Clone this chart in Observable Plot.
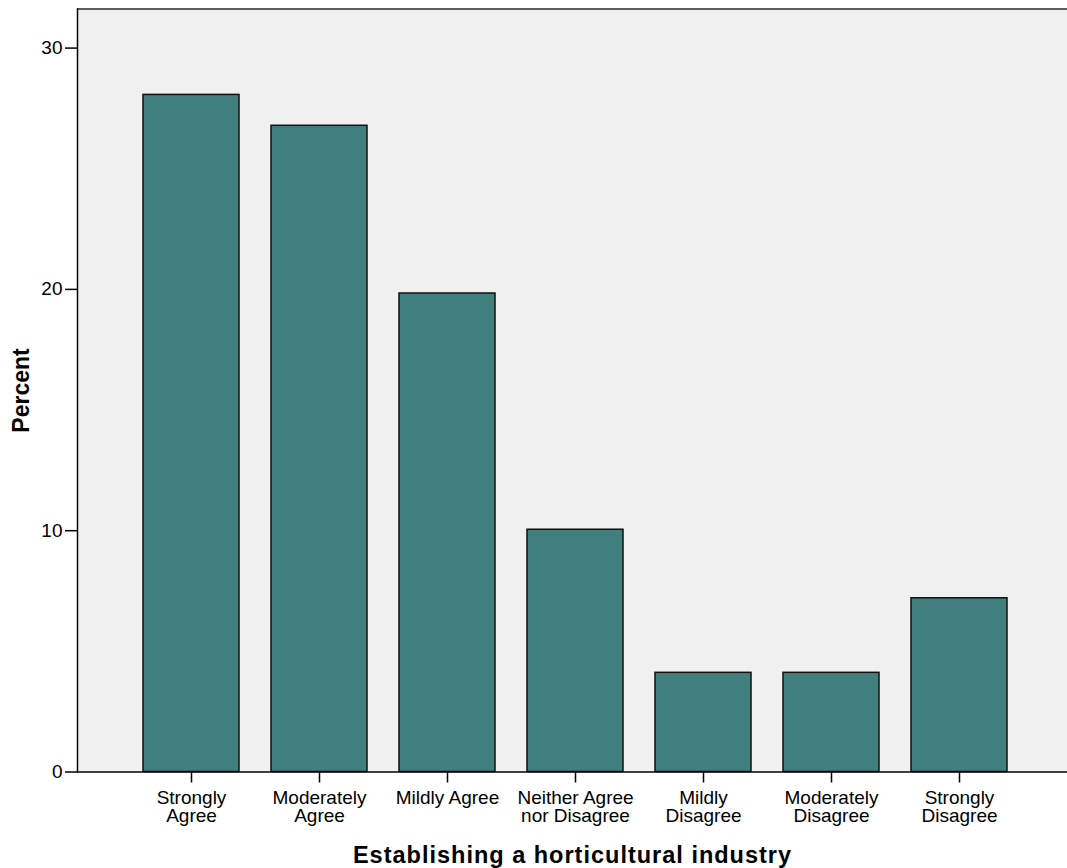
<!DOCTYPE html>
<html><head><meta charset="utf-8">
<script src="https://cdn.jsdelivr.net/npm/d3@7"></script>
<script src="https://cdn.jsdelivr.net/npm/@observablehq/plot@0.6"></script>
<style>
html,body{margin:0;padding:0;background:#fff;}
#chart svg{display:block;}
g[aria-label="x-axis label"], g[aria-label="x-axis label"] text{font-size:23.5px;font-weight:bold;letter-spacing:1px;}
g[aria-label="y-axis label"], g[aria-label="y-axis label"] text{font-size:23px;font-weight:bold;}
</style></head><body><div id="chart"></div>
<script>
const categories = ["Strongly Agree","Moderately Agree","Mildly Agree","Neither Agree nor Disagree","Mildly Disagree","Moderately Disagree","Strongly Disagree"];
const tickLabels = ["Strongly\nAgree","Moderately\nAgree","Mildly Agree","Neither Agree\nnor Disagree","Mildly\nDisagree","Moderately\nDisagree","Strongly\nDisagree"];
const percents = [28.06, 26.78, 19.83, 10.04, 4.11, 4.11, 7.20];
const yTicks = [0, 10, 20, 30];
const xTitle = "Establishing a horticultural industry";
const yTitle = "Percent";
const yMax = 31.62;

const data = categories.map((c, i) => ({category: c, percent: percents[i]}));

const chart = Plot.plot({
  width: 1067, height: 868,
  marginLeft: 77, marginRight: 0, marginTop: 8.5, marginBottom: 96.5,
  style: "font-family:'Liberation Sans', Arial, sans-serif; font-size:19px; color:#000; background:#fff; overflow:visible;",
  x: {type: "band", domain: categories, range: [77, 1073.5], paddingInner: 0.25, paddingOuter: 0.51, align: 0.5},
  y: {domain: [0, yMax]},
  marks: [
    Plot.frame({fill: "#f0f0f0"}),
    Plot.barY(data, {x: "category", y: "percent", fill: "#417f7e", stroke: "#111", strokeWidth: 1.5}),
    Plot.ruleY([yMax], {stroke: "#2a2a2a", strokeWidth: 1.5}),
    Plot.ruleY([0], {stroke: "#000", strokeWidth: 1.5}),
    Plot.frame({anchor: "left", stroke: "#000", strokeWidth: 1.5}),
    Plot.axisY({ticks: yTicks, tickSize: 12, tickPadding: 3, tickFormat: d => String(d), label: yTitle, labelAnchor: "center", labelOffset: 65, labelArrow: "none", strokeWidth: 1.5}),
    Plot.axisX({tickSize: 11, tickPadding: 8, tickFormat: d => tickLabels[categories.indexOf(d)], label: xTitle, labelAnchor: "center", labelOffset: 90.5, labelArrow: "none", strokeWidth: 1.5, lineHeight: 0.94})
  ]
});
document.getElementById("chart").appendChild(chart);
</script>
</body></html>
